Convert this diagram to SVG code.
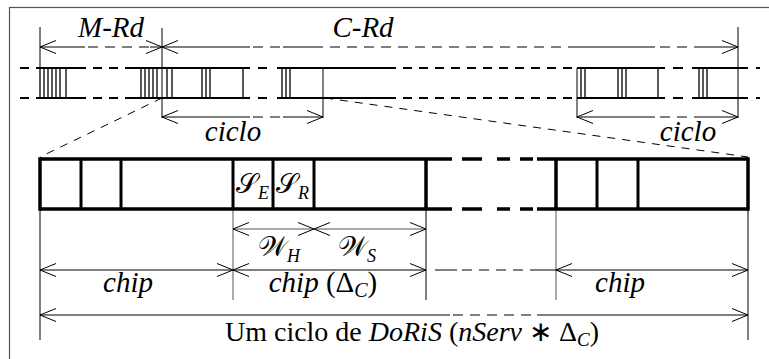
<svg xmlns="http://www.w3.org/2000/svg" width="769" height="359" viewBox="0 0 769 359">
<style>
.it{font-style:italic}
.lbl{font-size:29px}
.ser{font-family:'Liberation Serif','Times New Roman',Times,serif}
.thin{stroke:#000;stroke-width:1;fill:none}
.gray{stroke:#555;stroke-width:1;fill:none}
.row{stroke:#000;stroke-width:2;fill:none}
.rowd{stroke:#000;stroke-width:2;fill:none;stroke-dasharray:9 7}
.dimd{stroke:#000;stroke-width:1;fill:none;stroke-dasharray:10 7}
.tk{stroke:#000;stroke-width:1.3;fill:none}
.box{stroke:#000;stroke-width:3.5;fill:none}
.diag{stroke:#000;stroke-width:1;fill:none;stroke-dasharray:8 7}
</style>
<defs>
<marker id="ah" markerUnits="userSpaceOnUse" viewBox="-17 -8 18 16" refX="0" refY="0" markerWidth="18" markerHeight="16" orient="auto-start-reverse">
<path d="M-16,-6.5 L0,0 L-16,6.5" fill="none" stroke="#000" stroke-width="1"/>
</marker>
</defs>
<rect x="9.5" y="7.5" width="770" height="360" fill="none" stroke="#555" stroke-width="1.2"/>

<g id="connectors">
<g id="rows">
<path class="rowd" d="M20,68H37M77,68H133M387,68H577M20,98H37M77,98H133M387,98H577"/>
<path class="row" d="M37,68H77M133,68H250M277,68H387M577,68H665M692,68H748M37,98H77M133,98H250M277,98H387M577,98H665M692,98H748"/>
<path class="row" d="M258,68H267M258,98H267M673,68H683M673,98H683M756,68H760M756,98H760"/>
<path class="tk" d="M40,68V98M44,68V98M48,68V98M52,68V98M56,68V98M60,68V98M66,68V98
M141,68V98M145,68V98M149,68V98M153,68V98M157,68V98M167,68V98M172,68V98
M202,68V98M206,68V98M210,68V98M243,68V98
M282,68V98M286,68V98M290,68V98
M581,68V98M585,68V98M618,68V98M622,68V98M626,68V98M658,68V98M699,68V98M703,68V98M707,68V98"/>
</g>
<path class="thin" d="M40,27V68M162,28V118M323,68V118M577,68V118M738,27V118"/>
<path class="thin" d="M40,47H85" marker-start="url(#ah)"/>
<path class="dimd" d="M88,47H150"/>
<path class="thin" d="M150,47H162" marker-end="url(#ah)"/>
<path class="thin" d="M162,47H250" marker-start="url(#ah)"/>
<path class="dimd" d="M253,47H283"/>
<path class="thin" d="M283,47H323"/>
<path class="dimd" d="M330,47H577"/>
<path class="thin" d="M577,47H655"/>
<path class="dimd" d="M660,47H700"/>
<path class="thin" d="M700,47H738" marker-end="url(#ah)"/>
<path class="thin" d="M162,117H250" marker-start="url(#ah)"/>
<path class="dimd" d="M253,117H283"/>
<path class="thin" d="M283,117H323" marker-end="url(#ah)"/>
<path class="thin" d="M577,117H655" marker-start="url(#ah)"/>
<path class="dimd" d="M660,117H700"/>
<path class="thin" d="M700,117H738" marker-end="url(#ah)"/>
<path class="diag" d="M162,98L40,157M325,98L748,157"/>
<path class="thin" d="M40,209V340M748,209V340M426,209V300"/>
<path class="gray" d="M233,209V300M556,209V300"/>
<path class="gray" d="M233,229H314" marker-start="url(#ah)" marker-end="url(#ah)"/>
<path class="gray" d="M314,229H426" marker-start="url(#ah)" marker-end="url(#ah)"/>
<path class="thin" d="M40,270H233" marker-start="url(#ah)" marker-end="url(#ah)"/>
<path class="thin" d="M233,270H426" marker-start="url(#ah)" marker-end="url(#ah)"/>
<path class="thin" d="M435,270H457M530,270H556"/>
<path class="dimd" d="M462,270H528"/>
<path class="thin" d="M556,270H748" marker-start="url(#ah)" marker-end="url(#ah)"/>
<path class="thin" d="M40,315H450" marker-start="url(#ah)"/>
<path class="dimd" d="M453,315H537"/>
<path class="thin" d="M537,315H748" marker-end="url(#ah)"/>
</g>

<g id="chip-frame">
<path class="box" d="M40,159H452M40,209H452M537,159H748M537,209H748"/>
<path class="box" d="M462,159H482M497,159H510M520,159H533M462,209H482M497,209H510M520,209H533"/>
<path class="box" d="M40,157.3V210.7M748,157.3V210.7M426,159V209M556,159V209"/>
<path class="box" style="stroke-width:3" d="M81,159V209M121,159V209M233,159V209M273,159V209M314,159V209M597,159V209M638,159V209"/>
</g>

<g id="labels" fill="#000">
<text class="ser lbl it" x="111" y="37" text-anchor="middle">M-Rd</text>
<text class="ser lbl it" x="363" y="37" text-anchor="middle">C-Rd</text>
<text class="ser lbl it" x="233" y="141" text-anchor="middle">ciclo</text>
<text class="ser lbl it" x="688" y="141" text-anchor="middle">ciclo</text>
<text class="ser" x="236" y="193" font-size="28">𝒮<tspan class="it" font-size="18" dy="6">E</tspan></text>
<text class="ser" x="276" y="193" font-size="28">𝒮<tspan class="it" font-size="18" dy="6">R</tspan></text>
<text class="ser" x="258" y="256" font-size="28">𝒲<tspan class="it" font-size="18" dy="6">H</tspan></text>
<text class="ser" x="338" y="256" font-size="28">𝒲<tspan class="it" font-size="18" dy="6">S</tspan></text>
<text class="ser lbl it" x="128" y="292" text-anchor="middle">chip</text>
<text class="ser lbl" x="323" y="292" text-anchor="middle"><tspan class="it">chip</tspan> (Δ<tspan class="it" font-size="20" dy="5">C</tspan><tspan dy="-5">)</tspan></text>
<text class="ser lbl it" x="620" y="292" text-anchor="middle">chip</text>
<text class="ser" font-size="28" x="412" y="341" text-anchor="middle">Um ciclo de <tspan class="it">DoRiS</tspan> (<tspan class="it">nServ</tspan> ∗ Δ<tspan class="it" font-size="19" dy="5">C</tspan><tspan dy="-5">)</tspan></text>
</g>
</svg>
